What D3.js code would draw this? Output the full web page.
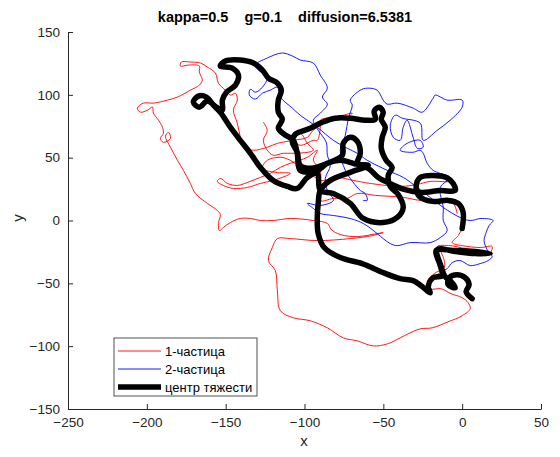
<!DOCTYPE html>
<html>
<head>
<meta charset="utf-8">
<script src="https://cdn.jsdelivr.net/npm/d3@7"></script>
<style>
  body { margin: 0; background: #fff; }
  svg { display: block; font-family: "Liberation Sans", Arial, sans-serif; }
</style>
</head>
<body>
<svg width="560" height="457"></svg>
<script>
// particle 1 trajectory [x, y]
const red = [
  [-126.1,78.2],[-123.6,71.8],[-126.1,63.8],[-123.6,55.9],[-119.8,51.9],[-113.4,53.5],[-104.6,53.5],[-94.4,55.9],
  [-98.2,61.4],[-102.7,69.4],[-109.0,66.2],[-102.7,59.9],[-94.4,63.8],
  [-91.9,63.8],[-90.0,73.4],[-90.0,79.8],[-81.7,82.2],[-75.4,83.8],[-69.7,85.4],[-74.1,81.4],[-83.6,79.8],
  [-94.4,71.8],[-98.2,66.2],[-107.1,63.8],[-117.2,61.4],[-123.6,58.3],[-132.4,55.9],[-138.8,58.3],[-140.7,66.2],
  [-142.6,77.4],[-145.1,87.8],[-142.6,95.8],[-143.8,101.3],[-147.0,99.8],[-150.2,103.7],[-154.6,109.3],[-156.5,117.3],
  [-161.6,122.1],[-166.0,125.3],[-172.4,126.1],[-178.1,126.1],[-178.7,122.9],[-173.6,123.7],[-166.7,122.9],[-166.7,118.1],
  [-164.8,111.7],[-166.7,107.7],[-172.4,103.7],[-180.6,98.2],[-186.9,95.8],[-195.8,93.4],[-202.2,93.4],[-206.0,89.4],
  [-204.0,86.2],[-199.6,87.8],[-196.4,90.2],[-195.8,85.4],[-192.6,79.8],[-190.1,74.2],[-189.5,69.4],[-191.4,65.4],
  [-189.5,62.2],[-185.0,65.4],[-186.3,70.2],[-188.2,67.0],[-185.0,58.3],[-180.6,47.9],[-176.8,39.9],[-172.4,29.5],
  [-169.2,21.5],[-161.6,13.6],[-155.3,8.0],[-153.4,4.8],[-154.6,-2.4],[-154.0,-8.0],[-151.5,-5.6],[-147.0,-1.6],
  [-140.7,1.6],[-134.3,1.6],[-128.0,0],[-119.8,0],[-109.0,1.6],[-94.4,0],[-85.5,-2.4],[-83.0,-7.2],
  [-77.3,-11.2],[-66.5,-12.8],[-53.9,-10.4],[-50.1,-9.6],[-57.0,-12.0],[-71.0,-14.4],[-91.9,-16.0],[-109.0,-14.4],
  [-117.2,-14.4],[-120.4,-21.5],[-122.9,-31.9],[-118.5,-39.9],[-117.2,-55.9],[-115.3,-71.8],[-107.1,-77.4],[-96.3,-79.8],
  [-85.5,-85.4],[-75.4,-93.4],[-66.5,-95.8],[-56.4,-99.8],[-47.5,-98.2],[-39.3,-93.4],[-33.0,-89.4],[-26.6,-86.2],
  [-19.0,-85.4],[-8.9,-80.6],[0,-75.8],[5.1,-70.2],[3.8,-65.4],[0,-61.4],[-7.0,-58.3],[-13.3,-54.3],
  [-20.3,-54.3],[-22.2,-48.7],[-17.7,-42.3],[-11.4,-37.5],[-11.4,-31.9],[-13.3,-25.5],[-15.8,-20.7],[-7.6,-20.0],
  [1.9,-22.3],[10.1,-23.9],[17.7,-25.5],[19.0,-20.7],[11.4,-21.5],[0,-20.0],[-6.3,-17.6],[-2.5,-12.0],
  [0,-5.6],[0.6,2.4],[-1.3,13.6],[-12.0,14.4],[-23.4,16.0],[-27.2,23.9],[-26.6,33.5],[-13.9,34.3],
  [-7.6,31.1],[-20.3,31.1],[-28.5,28.7],[-39.3,27.1],[-58.3,29.5],[-69.1,31.9],[-79.2,34.3],[-90.0,31.9],
  [-96.3,37.5],[-102.7,42.3],[-109.0,47.9],[-115.3,50.3],[-123.6,47.9],[-126.7,41.5],[-118.5,38.3],
  [-109.0,37.5],[-119.8,31.9],[-128.0,29.5],[-136.2,26.3],[-145.1,25.5],[-151.5,27.9],
  [-155.3,31.1],[-153.4,33.5],[-148.9,29.5],[-142.6,27.9],[-136.2,30.3],[-128.0,34.3],[-121.7,37.5],[-115.3,42.3],
  [-109.0,45.5],[-98.2,50.3],[-91.9,55.9],[-94.4,47.9],[-90.0,39.9],[-90.0,16.0],[-81.7,17.6],[-72.9,17.6],
  [-66.5,21.5],[-55.1,20.0],[-37.4,18.4],[-26.6,16.0],[-15.8,16.0],[-5.7,13.6],[-3.2,5.6]
];

// particle 2 trajectory [x, y]
const blue = [
  [-21.5,-57.5],[-21.5,-52.7],[-18.4,-45.5],[-13.9,-41.5],[-9.5,-38.3],[-6.3,-33.5],[-1.3,-31.9],[5.1,-35.9],
  [11.4,-34.3],[16.5,-31.9],[19.0,-28.7],[15.8,-23.1],[13.9,-16.0],[15.2,-9.6],[17.1,-4.0],[19.6,0],
  [12.0,1.6],[5.1,0],[-1.3,2.4],[-12.0,10.4],[-20.3,18.4],[-28.5,26.3],[-37.4,34.3],[-47.5,39.9],
  [-60.2,47.9],[-66.5,53.5],[-72.9,57.5],[-81.7,63.8],[-91.9,74.2],[-102.7,83.8],[-107.7,89.4],[-115.3,98.2],
  [-117.2,106.1],[-121.7,103.7],[-126.7,101.3],[-131.2,96.6],[-135.0,99.8],[-134.3,104.5],[-131.2,102.1],[-126.7,106.1],
  [-123.6,114.1],[-129.3,119.7],[-131.2,123.7],[-123.6,129.3],[-114.1,133.3],[-107.7,130.9],[-102.7,127.7],[-94.4,125.3],
  [-90.0,115.7],[-85.5,105.3],[-88.7,98.2],[-85.5,92.6],[-90.0,85.4],[-94.4,79.8],[-91.3,71.8],[-86.2,62.2],
  [-85.5,51.9],[-83.6,43.9],[-86.8,33.5],[-85.5,23.9],[-81.7,16.0],[-90.0,12.0],[-98.2,13.6],[-94.4,9.6],
  [-90.0,5.6],[-81.7,4.0],[-71.0,1.6],[-62.7,-2.4],[-53.9,-10.4],[-50.1,-14.4],[-45.6,-18.4],[-41.2,-20.0],
  [-33.0,-17.6],[-20.3,-17.6],[-13.9,-13.6],[-9.5,-8.0],[-12.0,0],[-12.0,10.4],[-13.9,26.3],[-7.6,34.3],
  [-13.9,37.5],[-18.4,39.9],[-22.2,45.5],[-24.7,53.5],[-26.6,55.9],[-31.1,54.3],[-39.3,55.9],[-34.9,61.4],
  [-26.6,63.8],[-24.7,58.3],[-28.5,57.5],[-31.1,66.2],[-34.9,79.8],[-37.4,74.2],[-39.3,63.8],[-43.7,66.2],
  [-45.6,75.8],[-42.5,83.8],[-38.0,81.4],[-26.6,77.4],[-24.7,63.8],[-15.8,71.8],[-7.6,79.8],[0,90.2],
  [0,95.8],[-9.5,95.8],[-17.1,99.8],[-18.4,97.4],[-25.3,86.2],[-31.1,89.4],[-41.2,93.4],[-47.5,92.6],
  [-50.1,95.8],[-53.9,103.7],[-60.2,105.3],[-64.6,103.7],[-71.0,95.8],[-69.7,91.8],[-72.2,81.4],[-74.1,67.8],
  [-77.3,55.9],[-74.1,39.9],[-64.6,23.9],[-61.5,21.5],[-60.2,16.0],[-62.7,16.0]
];

// centre of mass trajectory [x, y]
const centre = [
  [0,-6.4],[0.6,6.4],[-2.5,13.6],[-8.9,16.0],[-19.0,15.2],[-27.2,19.2],[-29.2,27.1],[-26.6,34.3],
  [-18.4,35.9],[-10.1,34.3],[-5.7,29.5],[-4.4,23.9],[-13.9,23.9],[-26.6,22.3],[-36.8,24.7],[-44.4,28.7],
  [-53.2,34.3],[-59.6,41.5],[-69.1,45.5],[-77.3,47.9],[-85.5,45.5],[-91.9,39.9],[-102.7,39.9],[-104.6,53.5],
  [-107.1,63.8],[-112.8,68.6],[-116.6,73.4],[-114.1,80.6],[-116.6,86.2],[-116.6,95.8],[-114.7,103.7],[-117.2,109.3],
  [-122.9,113.3],[-126.7,119.7],[-132.4,125.3],[-140.7,127.7],[-150.2,126.9],[-153.4,122.9],[-145.8,121.3],[-141.9,115.7],
  [-143.8,107.7],[-149.5,102.1],[-152.1,95.8],[-152.1,87.8],[-155.9,90.2],[-161.6,95.0],[-166.7,90.2],[-170.5,94.2],
  [-167.3,99.0],[-162.2,98.2],[-157.8,91.8],[-153.4,86.2],[-147.0,74.2],[-140.7,63.8],[-134.3,53.5],[-128.0,42.3],
  [-119.8,31.9],[-110.9,27.1],[-104.6,25.5],[-98.2,34.3],[-91.9,37.5],[-90.0,23.9],[-81.7,21.5],[-71.0,13.6],
  [-62.7,1.6],[-50.1,-1.6],[-41.2,2.4],[-37.4,10.4],[-40.6,20.7],[-45.6,27.1],[-46.9,35.9],[-44.4,42.3],
  [-48.2,47.9],[-51.3,57.5],[-50.7,66.2],[-48.8,74.2],[-51.3,80.6],[-50.1,86.2],[-52.6,90.2],[-55.8,87.0],
  [-55.1,80.6],[-61.5,79.8],[-71.0,81.4],[-80.5,81.4],[-88.7,78.2],[-96.3,73.4],[-105.8,68.6],[-107.7,62.2],
  [-104.6,54.3],[-102.7,43.9],[-96.3,41.5],[-85.5,45.5],[-76.0,51.9],[-75.4,61.4],[-71.0,66.2],[-66.5,63.0],
  [-64.6,53.5],[-66.5,45.5],[-59.6,43.9],[-71.0,38.3],[-83.6,31.9],[-90.0,23.9],[-91.3,13.6],[-91.9,2.4],
  [-91.3,-10.4],[-87.5,-21.5],[-77.3,-29.5],[-63.4,-34.3],[-50.1,-41.5],[-39.3,-46.3],[-31.1,-47.9],[-26.0,-51.9],
  [-20.3,-57.5],[-21.5,-52.7],[-18.4,-45.5],[-12.7,-43.9],[-13.9,-35.9],[-16.5,-23.9],[-4.4,-23.9],[8.2,-24.7],
  [17.7,-26.3],[8.2,-26.3],[-4.4,-24.7],[-15.8,-23.1],[-13.3,-36.7],[-10.8,-44.7],[-7.6,-47.9],[-4.4,-53.5],
  [-8.9,-51.1],[-8.2,-45.5],[-3.2,-43.1],[1.9,-45.5],[4.4,-51.1],[2.5,-56.7],[6.3,-62.2]
];

const xTicks = [-250, -200, -150, -100, -50, 0, 50];
const yTicks = [-150, -100, -50, 0, 50, 100, 150];
const seriesNames = ["1-частица", "2-частица", "центр тяжести"];
const seriesColors = ["#ff0000", "#0000ff", "#000000"];
const seriesWidths = [0.9, 0.9, 5.5];
const gap = "\u00a0\u00a0\u00a0\u00a0";
const title = "kappa=0.5" + gap + "g=0.1" + gap + "diffusion=6.5381";

const svg = d3.select("svg");
const axisColor = "#262626";

const x = d3.scaleLinear().domain([-250, 50]).range([68, 541]);
const y = d3.scaleLinear().domain([-150, 150]).range([409, 32]);

const line = d3.line()
    .x(d => x(d[0]))
    .y(d => y(d[1]))
    .curve(d3.curveCatmullRom.alpha(0.5));

const all = [red, blue, centre];
svg.append("g")
    .selectAll("path")
    .data(all)
    .enter()
    .append("path")
    .attr("d", line)
    .attr("fill", "none")
    .attr("stroke", (d, i) => seriesColors[i])
    .attr("stroke-width", (d, i) => seriesWidths[i])
    .attr("stroke-linejoin", "round")
    .attr("stroke-linecap", "round");

// axes, MATLAB style ticks pointing inward
const xAxis = d3.axisBottom(x).tickValues(xTicks).tickSizeInner(-5).tickSizeOuter(0).tickPadding(8);
const yAxis = d3.axisLeft(y).tickValues(yTicks).tickSizeInner(-5).tickSizeOuter(0).tickPadding(8);

const gx = svg.append("g").attr("transform", "translate(0,409)").call(xAxis);
const gy = svg.append("g").attr("transform", "translate(68,0)").call(yAxis);

[gx, gy].forEach(g => {
    g.select(".domain").attr("stroke", axisColor);
    g.selectAll("line").attr("stroke", axisColor);
    g.selectAll("text")
        .attr("fill", axisColor)
        .style("font-size", "13.5px")
        .style("font-family", "'Liberation Sans', Arial, sans-serif");
});

svg.append("text")
    .attr("x", 304)
    .attr("y", 446)
    .attr("text-anchor", "middle")
    .attr("fill", axisColor)
    .style("font-size", "15px")
    .text("x");

svg.append("text")
    .attr("transform", "translate(23,218) rotate(-90)")
    .attr("text-anchor", "middle")
    .attr("fill", axisColor)
    .style("font-size", "15px")
    .text("y");

svg.append("text")
    .attr("x", 285)
    .attr("y", 22)
    .attr("text-anchor", "middle")
    .attr("fill", "#000")
    .style("font-size", "14.5px")
    .style("font-weight", "bold")
    .text(title);

// legend
const legend = svg.append("g").attr("transform", "translate(114,338)");
legend.append("rect")
    .attr("width", 143)
    .attr("height", 58)
    .attr("fill", "#fff")
    .attr("stroke", axisColor)
    .attr("stroke-width", 0.8);

const items = legend.selectAll("g.item")
    .data(seriesNames)
    .enter()
    .append("g")
    .attr("class", "item")
    .attr("transform", (d, i) => `translate(0,${13 + i * 18})`);

items.append("line")
    .attr("x1", 4)
    .attr("x2", 47)
    .attr("stroke", (d, i) => seriesColors[i])
    .attr("stroke-width", (d, i) => seriesWidths[i]);

items.append("text")
    .attr("x", 51)
    .attr("y", 4.5)
    .attr("fill", "#000")
    .style("font-size", "13px")
    .text(d => d);
</script>
</body>
</html>
